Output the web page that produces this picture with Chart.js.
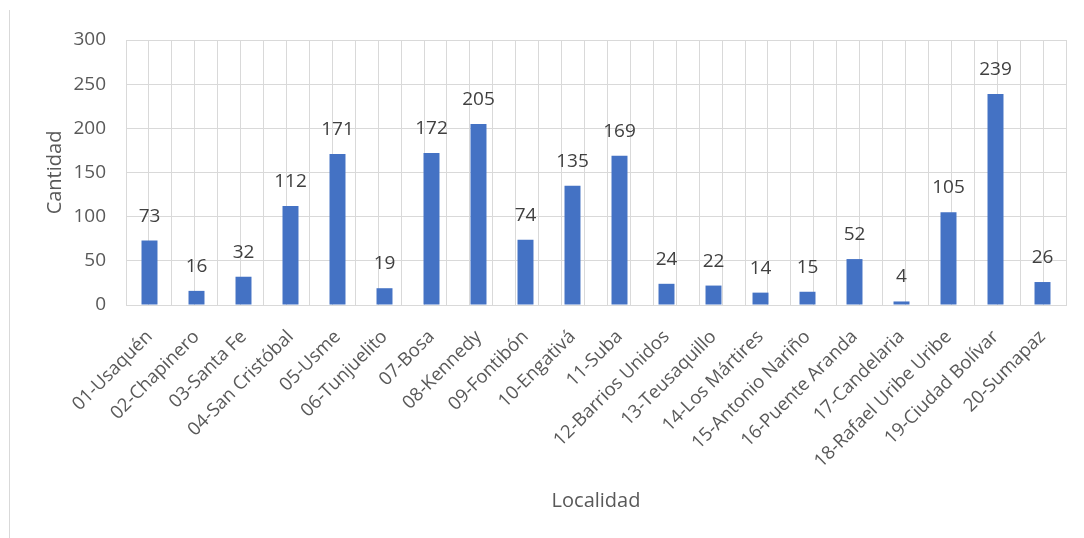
<!DOCTYPE html>
<html>
<head>
<meta charset="utf-8">
<script src="https://cdn.jsdelivr.net/npm/chart.js@4/dist/chart.umd.min.js"></script>
<style>
  html, body { margin: 0; padding: 0; background: #ffffff; }
  #wrap { position: relative; width: 1084px; height: 538px; }
  #frame { position: absolute; left: 9px; top: 10px; width: 1px; height: 528px; background: #d9d9d9; }
  canvas { position: absolute; left: 0; top: 0; }
</style>
</head>
<body>
<div id="wrap">
  <div id="frame"></div>
  <canvas id="c" width="1084" height="538"></canvas>
</div>
<script>
const categories = [
  "01-Usaquén", "02-Chapinero", "03-Santa Fe", "04-San Cristóbal", "05-Usme",
  "06-Tunjuelito", "07-Bosa", "08-Kennedy", "09-Fontibón", "10-Engativá",
  "11-Suba", "12-Barrios Unidos", "13-Teusaquillo", "14-Los Mártires", "15-Antonio Nariño",
  "16-Puente Aranda", "17-Candelaria", "18-Rafael Uribe Uribe", "19-Ciudad Bolívar", "20-Sumapaz"
];
const cantidad = [73, 16, 32, 112, 171, 19, 172, 205, 74, 135, 169, 24, 22, 14, 15, 52, 4, 105, 239, 26];
const yTicks = [0, 50, 100, 150, 200, 250, 300];
const xTitle = "Localidad";
const yTitle = "Cantidad";

const FONT = "'Open Sans', 'Liberation Sans', sans-serif";
const TEXT = "#595959";
const GRID = "#d9d9d9";

const valueLabels = {
  id: "valueLabels",
  afterDatasetsDraw(chart) {
    const ctx = chart.ctx;
    const meta = chart.getDatasetMeta(0);
    ctx.save();
    ctx.font = "19px " + FONT;
    ctx.fillStyle = "#404040";
    ctx.textAlign = "center";
    ctx.textBaseline = "alphabetic";
    meta.data.forEach((bar, i) => {
      ctx.fillText(String(cantidad[i]), bar.x, bar.y - 19);
    });
    ctx.restore();
  }
};

new Chart(document.getElementById("c"), {
  type: "bar",
  data: {
    labels: categories,
    datasets: [{
      label: yTitle,
      data: cantidad,
      backgroundColor: "#4472C4",
      borderWidth: 0,
      barPercentage: 0.34,
      categoryPercentage: 1.0
    }]
  },
  options: {
    responsive: false,
    animation: false,
    devicePixelRatio: 1,
    layout: { padding: { top: 40, right: 18, bottom: 14, left: 0 } },
    plugins: { legend: { display: false }, tooltip: { enabled: false } },
    scales: {
      x: {
        position: "bottom",
        grid: { display: false },
        border: { display: true, color: GRID, width: 1 },
        ticks: {
          color: TEXT, font: { family: FONT, size: 18.5 },
          maxRotation: 45, minRotation: 45, autoSkip: false, padding: 13
        },
        title: { display: true, text: xTitle, color: TEXT, font: { family: FONT, size: 20 }, padding: { top: 0, bottom: 11 } },
        afterFit(scale) { scale.height = 538 - 305 - 14; }
      },
      x2: {
        type: "linear",
        position: "bottom",
        min: -0.5, max: 19.5,
        grid: { color: GRID, lineWidth: 1, drawTicks: false },
        border: { display: false },
        ticks: { display: false, stepSize: 0.5, autoSkip: false },
        afterFit(scale) { scale.height = 0; }
      },
      y: {
        min: 0, max: 300,
        afterBuildTicks(scale) { scale.ticks = yTicks.map(v => ({ value: v })); },
        grid: { color: GRID, lineWidth: 1, drawTicks: false },
        border: { display: false },
        ticks: { color: TEXT, font: { family: FONT, size: 19 }, padding: 20 },
        title: { display: true, text: yTitle, color: TEXT, font: { family: FONT, size: 20 }, padding: { top: 43, bottom: 0 } },
        afterFit(scale) { scale.width = 126; }
      }
    }
  },
  plugins: [valueLabels]
});
</script>
</body>
</html>
